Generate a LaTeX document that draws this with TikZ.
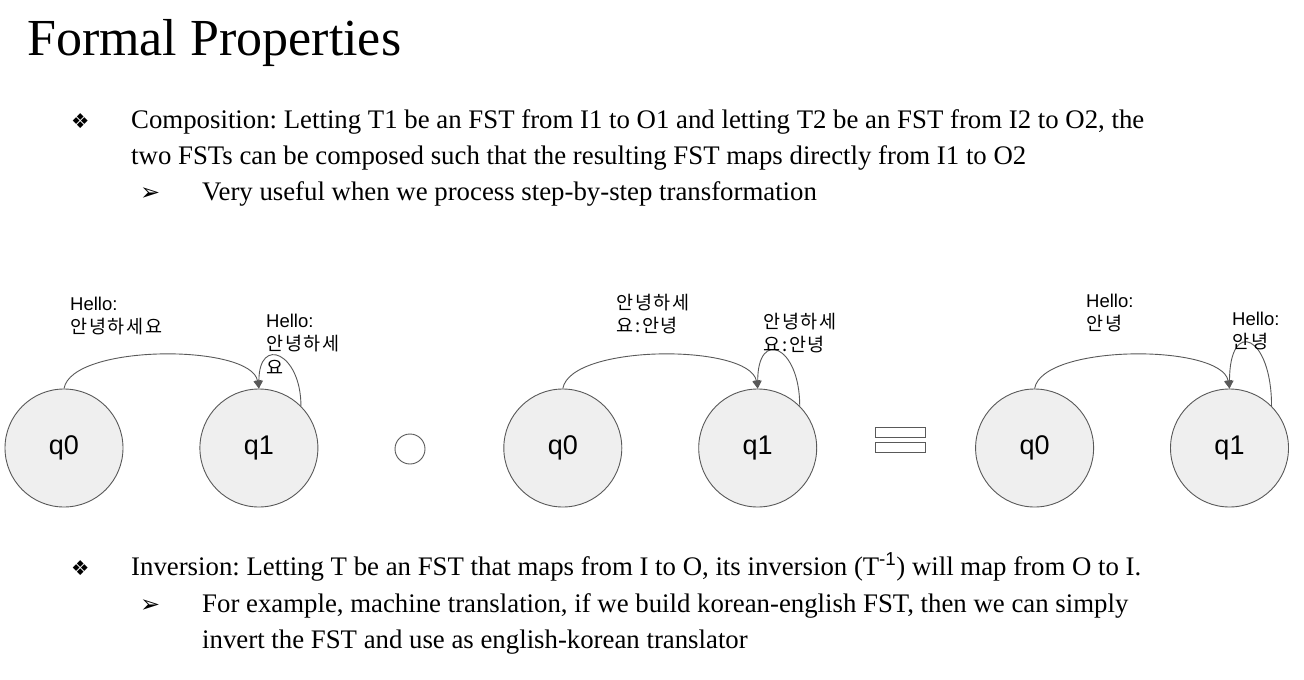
\documentclass[tikz,border=0pt]{standalone}
\usepackage{fontspec}
\setmainfont{Liberation Serif}
\newfontfamily\lsans{Liberation Sans}
\newfontfamily\krsans[LetterSpace=10]{Noto Sans CJK KR}
\newfontfamily\symsans{DejaVu Sans}
\definecolor{stline}{HTML}{595959}
\definecolor{stfill}{HTML}{EFEFEF}
\usetikzlibrary{arrows.meta, positioning}
\newcommand{\kr}[1]{{\krsans #1}}
\frenchspacing
\tikzset{
	qnode/.style={circle, draw=stline, fill=stfill, line width=0.9pt, minimum size=118pt,
		inner sep=0pt, font=\lsans\fontsize{27}{27}\selectfont},
	farr/.style={-{Triangle[length=8pt, width=8pt]}, line width=0.9pt, draw=stline},
	lbl/.style={anchor=base west, align=left, inner sep=0pt, font=\lsans\fontsize{18.5}{23.5}\selectfont},
	txt/.style={anchor=base west, align=left, inner sep=0pt, font=\fontsize{26.8}{36}\selectfont},
	bsym/.style={anchor=base west, inner sep=0pt, font=\symsans\fontsize{20.5}{20.5}\selectfont},
	opsym/.style={draw=stline, fill=white, line width=0.9pt, inner sep=0pt}
}

\begin{document}
\begin{tikzpicture}[x=1pt, y=-1pt, node distance=76pt]
	\useasboundingbox[fill=white] (0,0) rectangle (1304,680);
	\node[anchor=base west, inner sep=0pt, font=\fontsize{52}{52}\selectfont] (ptitle) at (27,55) {Formal Properties};
	% multi-line texts are placed by the baseline of their last line
	\node[bsym] (bcomp) at (71,128) {❖};
	\node[txt] (pcomp) at (131,164) {Composition: Letting T1 be an FST from I1 to O1 and letting T2 be an FST from I2 to O2, the\\two FSTs can be composed such that the resulting FST maps directly from I1 to O2};
	\node[bsym, font=\symsans\fontsize{24}{24}\selectfont] (bsubA) at (140,200) {➢};
	\node[txt] (pcompsub) at (202,200) {Very useful when we process step-by-step transformation};
	% first FST
	\node[qnode] (q0a) at (64,448) {q0};
	\node[qnode, right=of q0a] (q1a) {q1};
	% second FST
	\node[qnode, right=185pt of q1a] (q0b) {q0};
	\node[qnode, right=of q0b] (q1b) {q1};
	% composed FST
	\node[qnode, right=158pt of q1b] (q0c) {q0};
	\node[qnode, right=of q0c] (q1c) {q1};
	\node[opsym, circle, minimum size=30pt] (compo) at (410,449) {};
	\node[opsym, minimum width=50pt, minimum height=10pt] (eqtop) at (900,432) {};
	\node[opsym, minimum width=50pt, minimum height=10pt, below=5pt of eqtop] (eqbot) {};
	\draw[farr] (q0a.north) to[out=80, in=100, looseness=0.6] (q1a.north);
	\draw[farr] (q1a.45) to[out=90, in=90, looseness=3] (q1a.north);
	\draw[farr] (q0b.north) to[out=80, in=100, looseness=0.6] (q1b.north);
	\draw[farr] (q1b.45) to[out=90, in=90, looseness=3.4] (q1b.north);
	\draw[farr] (q0c.north) to[out=80, in=100, looseness=0.6] (q1c.north);
	\draw[farr] (q1c.45) to[out=90, in=90, looseness=4] (q1c.north);
	\node[lbl] (la01) at (70,333.5) {Hello:\\\kr{안녕하세요}};
	\node[lbl] (la11) at (266,374) {Hello:\\\kr{안녕하세}\\\kr{요}};
	\node[lbl] (lb01) at (616,332.5) {\kr{안녕하세}\\\kr{요:안녕}};
	\node[lbl] (lb11) at (763,351.5) {\kr{안녕하세}\\\kr{요:안녕}};
	\node[lbl] (lc01) at (1086,330.5) {Hello:\\\kr{안녕}};
	\node[lbl] (lc11) at (1232,348.5) {Hello:\\\kr{안녕}};
	\node[bsym] (binv) at (71,575) {❖};
	\node[txt] (pinv) at (131,575) {Inversion: Letting T be an FST that maps from I to O, its inversion (T\textsuperscript{\lsans -1}) will map from O to I.};
	\node[bsym, font=\symsans\fontsize{24}{24}\selectfont] (bsubB) at (140,612) {➢};
	\node[txt] (pinvsub) at (202,648) {For example, machine translation, if we build korean-english FST, then we can simply\\invert the FST and use as english-korean translator};
\end{tikzpicture}
\end{document}
